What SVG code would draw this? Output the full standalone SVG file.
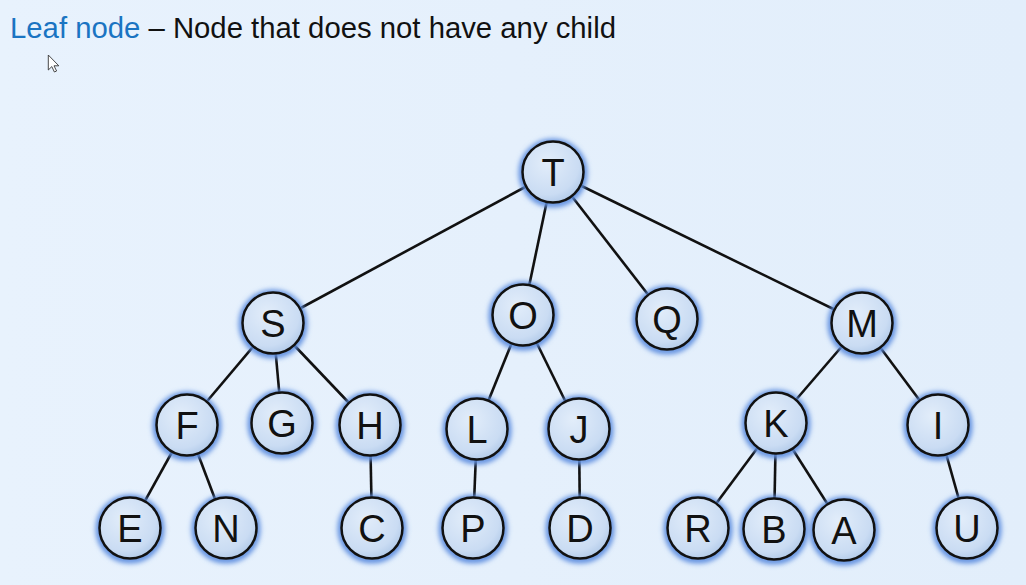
<svg xmlns="http://www.w3.org/2000/svg" width="1026" height="585" viewBox="0 0 1026 585">
<style>
.edge{stroke:#111;stroke-width:2.6;fill:none}
.halo{fill:none;stroke:#5f8fe0;stroke-width:7;filter:url(#blur)}
.disc{fill:url(#fillg);stroke:#111;stroke-width:2.5}
.lbl{font-family:"Liberation Sans",Arial,sans-serif;font-size:38px;fill:#111;text-anchor:middle}
.title{font-family:"Liberation Sans",Arial,sans-serif;font-size:29.3px}
</style>
<defs>
<radialGradient id="fillg" cx="0.4" cy="0.35" r="0.7">
<stop offset="0" stop-color="#e2edfa"/>
<stop offset="0.75" stop-color="#cadcf3"/>
<stop offset="1" stop-color="#afc8e8"/>
</radialGradient>
<filter id="blur" x="-30%" y="-30%" width="160%" height="160%">
<feGaussianBlur stdDeviation="2.5"/>
</filter>
<linearGradient id="bg" x1="0" y1="0" x2="1" y2="0">
<stop offset="0" stop-color="#e8f2fd"/>
<stop offset="1" stop-color="#e2eefb"/>
</linearGradient>
</defs>
<rect width="1026" height="585" fill="url(#bg)"/>
<text class="title" x="10" y="37.5"><tspan fill="#1a74c2">Leaf node</tspan><tspan fill="#111"> – Node that does not have any child</tspan></text>
<path d="M48.3,55 L48.3,70 L51.8,66.6 L54.4,72 L56.6,71 L54,65.8 L58.8,65.8 Z" fill="#fff" stroke="#333" stroke-width="0.9" stroke-linejoin="round"/>
<g id="connectors">
<line class="edge" x1="553" y1="172" x2="273" y2="323"/>
<line class="edge" x1="553" y1="172" x2="523" y2="315"/>
<line class="edge" x1="553" y1="172" x2="667" y2="319"/>
<line class="edge" x1="553" y1="172" x2="862" y2="323"/>
<line class="edge" x1="273" y1="323" x2="187" y2="425"/>
<line class="edge" x1="273" y1="323" x2="282" y2="423"/>
<line class="edge" x1="273" y1="323" x2="370" y2="425"/>
<line class="edge" x1="187" y1="425" x2="130" y2="528"/>
<line class="edge" x1="187" y1="425" x2="226" y2="528"/>
<line class="edge" x1="370" y1="425" x2="372" y2="528"/>
<line class="edge" x1="523" y1="315" x2="477" y2="429"/>
<line class="edge" x1="523" y1="315" x2="579" y2="429"/>
<line class="edge" x1="477" y1="429" x2="473" y2="528"/>
<line class="edge" x1="579" y1="429" x2="580" y2="528"/>
<line class="edge" x1="862" y1="323" x2="776" y2="423"/>
<line class="edge" x1="862" y1="323" x2="938" y2="425"/>
<line class="edge" x1="776" y1="423" x2="698" y2="528"/>
<line class="edge" x1="776" y1="423" x2="774" y2="529"/>
<line class="edge" x1="776" y1="423" x2="844" y2="530"/>
<line class="edge" x1="938" y1="425" x2="967" y2="528"/>
</g>
<g id="node-T"><circle class="halo" cx="553" cy="173" r="31"/><circle class="disc" cx="553" cy="172" r="30.5"/><text class="lbl" x="553" y="185.5">T</text></g>
<g id="node-S"><circle class="halo" cx="273" cy="324" r="31"/><circle class="disc" cx="273" cy="323" r="30.5"/><text class="lbl" x="273" y="336.5">S</text></g>
<g id="node-O"><circle class="halo" cx="523" cy="316" r="31"/><circle class="disc" cx="523" cy="315" r="30.5"/><text class="lbl" x="523" y="328.5">O</text></g>
<g id="node-Q"><circle class="halo" cx="667" cy="320" r="31"/><circle class="disc" cx="667" cy="319" r="30.5"/><text class="lbl" x="667" y="332.5">Q</text></g>
<g id="node-M"><circle class="halo" cx="862" cy="324" r="31"/><circle class="disc" cx="862" cy="323" r="30.5"/><text class="lbl" x="862" y="336.5">M</text></g>
<g id="node-F"><circle class="halo" cx="187" cy="426" r="31"/><circle class="disc" cx="187" cy="425" r="30.5"/><text class="lbl" x="187" y="438.5">F</text></g>
<g id="node-G"><circle class="halo" cx="282" cy="424" r="31"/><circle class="disc" cx="282" cy="423" r="30.5"/><text class="lbl" x="282" y="436.5">G</text></g>
<g id="node-H"><circle class="halo" cx="370" cy="426" r="31"/><circle class="disc" cx="370" cy="425" r="30.5"/><text class="lbl" x="370" y="438.5">H</text></g>
<g id="node-L"><circle class="halo" cx="477" cy="430" r="31"/><circle class="disc" cx="477" cy="429" r="30.5"/><text class="lbl" x="477" y="442.5">L</text></g>
<g id="node-J"><circle class="halo" cx="579" cy="430" r="31"/><circle class="disc" cx="579" cy="429" r="30.5"/><text class="lbl" x="579" y="442.5">J</text></g>
<g id="node-K"><circle class="halo" cx="776" cy="424" r="31"/><circle class="disc" cx="776" cy="423" r="30.5"/><text class="lbl" x="776" y="436.5">K</text></g>
<g id="node-I"><circle class="halo" cx="938" cy="426" r="31"/><circle class="disc" cx="938" cy="425" r="30.5"/><text class="lbl" x="938" y="438.5">I</text></g>
<g id="node-E"><circle class="halo" cx="130" cy="529" r="31"/><circle class="disc" cx="130" cy="528" r="30.5"/><text class="lbl" x="130" y="541.5">E</text></g>
<g id="node-N"><circle class="halo" cx="226" cy="529" r="31"/><circle class="disc" cx="226" cy="528" r="30.5"/><text class="lbl" x="226" y="541.5">N</text></g>
<g id="node-C"><circle class="halo" cx="372" cy="529" r="31"/><circle class="disc" cx="372" cy="528" r="30.5"/><text class="lbl" x="372" y="541.5">C</text></g>
<g id="node-P"><circle class="halo" cx="473" cy="529" r="31"/><circle class="disc" cx="473" cy="528" r="30.5"/><text class="lbl" x="473" y="541.5">P</text></g>
<g id="node-D"><circle class="halo" cx="580" cy="529" r="31"/><circle class="disc" cx="580" cy="528" r="30.5"/><text class="lbl" x="580" y="541.5">D</text></g>
<g id="node-R"><circle class="halo" cx="698" cy="529" r="31"/><circle class="disc" cx="698" cy="528" r="30.5"/><text class="lbl" x="698" y="541.5">R</text></g>
<g id="node-B"><circle class="halo" cx="774" cy="530" r="31"/><circle class="disc" cx="774" cy="529" r="30.5"/><text class="lbl" x="774" y="542.5">B</text></g>
<g id="node-A"><circle class="halo" cx="844" cy="531" r="31"/><circle class="disc" cx="844" cy="530" r="30.5"/><text class="lbl" x="844" y="543.5">A</text></g>
<g id="node-U"><circle class="halo" cx="967" cy="529" r="31"/><circle class="disc" cx="967" cy="528" r="30.5"/><text class="lbl" x="967" y="541.5">U</text></g>
</svg>
